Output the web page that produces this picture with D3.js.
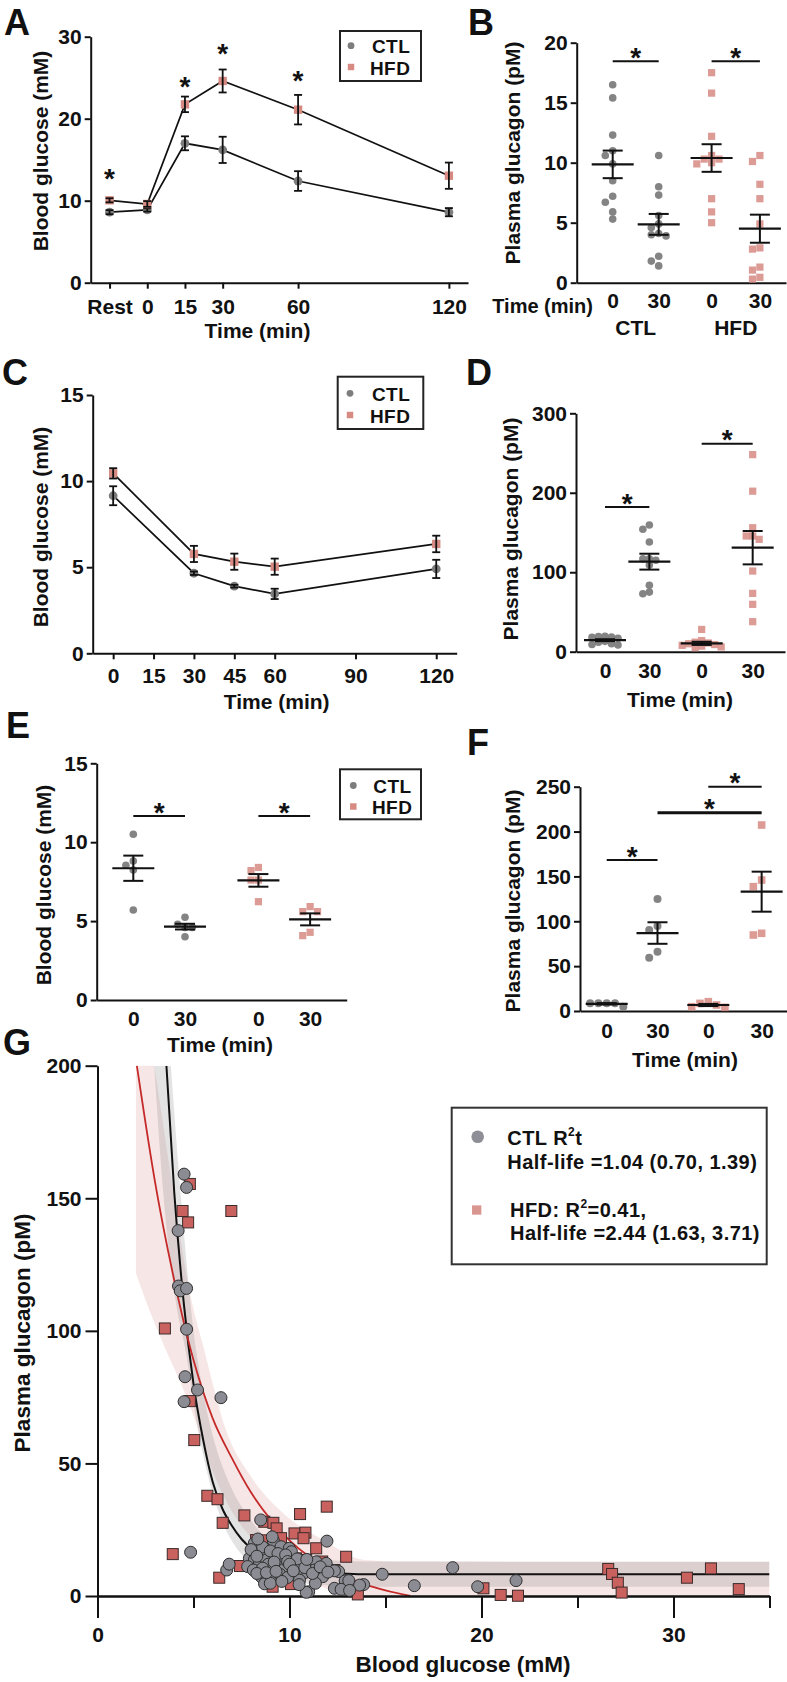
<!DOCTYPE html>
<html><head><meta charset="utf-8">
<script src="https://cdn.jsdelivr.net/npm/d3@7"></script>
<style>body{margin:0;background:#fff}svg{display:block}</style>
</head><body>
<svg id="chart" width="787" height="1682"></svg>
<script>
// ---------------- DATA ----------------
// Panel A
const aTimeLabels = ["Rest","0","15","30","60","120"];
const aTime = [-15, 0, 15, 30, 60, 120];
const aCtlMean = [8.6, 8.87, 17.0, 16.2, 12.4, 8.6];
const aCtlSem  = [0.25, 0.2, 0.85, 1.6, 1.2, 0.5];
const aHfdMean = [10.05, 9.6, 21.75, 24.6, 21.1, 13.05];
const aHfdSem  = [0.25, 0.35, 0.95, 1.4, 1.8, 1.6];
const aStarTime = [-15, 15, 30, 60];
const aStarLevel = [13.4, 24.6, 28.7, 25.4];
const aYTicks = [0, 10, 20, 30];

// Panel B
const bCtl0  = [16.5, 15.4, 12.3, 11.0, 10.6, 9.9, 8.5, 7.2, 6.7, 5.9, 5.3];
const bCtl30 = [10.6, 8.0, 7.3, 5.6, 4.9, 4.6, 4.0, 3.9, 4.1, 2.2, 1.8, 1.4];
const bHfd0  = [17.5, 15.8, 12.2, 10.3, 10.3, 10.6, 10.0, 9.9, 7.0, 5.9, 5.0];
const bHfd30 = [10.1, 10.6, 8.2, 7.0, 4.9, 2.8, 2.9, 1.05, 1.3, 0.3, 0.45];
const bMean = [9.86, 4.86, 10.39, 4.5];
const bSem  = [1.15, 0.87, 1.15, 1.17];
const bLabels = ["0","30","0","30"];
const bSigFrom = [0, 2], bSigTo = [1, 3], bSigLevel = [18.45, 18.45];
const bYTicks = [0, 5, 10, 15, 20];

// Panel C
const cTime = [0, 30, 45, 60, 120];
const cCtlMean = [9.15, 4.65, 3.9, 3.45, 4.9];
const cCtlSem  = [0.55, 0.1, 0.08, 0.3, 0.53];
const cHfdMean = [10.45, 5.77, 5.32, 5.03, 6.35];
const cHfdSem  = [0.3, 0.47, 0.47, 0.47, 0.48];
const cXTicks = [0, 15, 30, 45, 60, 90, 120];
const cYTicks = [0, 5, 10, 15];

// Panel D
const dCtl0  = [19, 18.5, 19.5, 18, 17, 8.4, 9, 12, 13, 10];
const dCtl30 = [73, 83.5, 75, 154, 159.5, 138, 117, 115, 117, 109];
const dHfd0  = [28, 11, 8, 14, 6, 10, 9, 5, 12, 7];
const dHfd30 = [248, 202, 145.6, 156, 145.6, 141.4, 101.5, 73.4, 59.6, 37.8];
const dMean = [14.5, 113.3, 10.5, 130.9];
const dSem  = [1.2, 10, 2.0, 21];
const dLabels = ["0","30","0","30"];
const dSigFrom = [0, 2], dSigTo = [1, 3], dSigLevel = [182, 261.7];
const dYTicks = [0, 100, 200, 300];

// Panel E
const eCtl0  = [10.5, 8.54, 8.81, 8.24, 5.7];
const eCtl30 = [4.8, 4.6, 5.24, 4.01, 4.6];
const eHfd0  = [8.4, 8.2, 7.6, 7.6, 6.23];
const eHfd30 = [5.92, 5.6, 5.6, 4.08, 4.29];
const eMean = [8.35, 4.65, 7.58, 5.11];
const eSem  = [0.8, 0.18, 0.4, 0.38];
const eLabels = ["0","30","0","30"];
const eSigFrom = [0, 2], eSigTo = [1, 3], eSigLevel = [11.66, 11.66];
const eYTicks = [0, 5, 10, 15];

// Panel F
const fCtl0  = [8.5, 8.5, 8.5, 8.5, 4.8];
const fCtl30 = [124.8, 90.3, 94.7, 59.4, 66.1];
const fHfd0  = [4.8, 10.4, 6.7, 8.5, 4.1];
const fHfd30 = [207.3, 138.6, 146, 84.7, 86.6];
const fMean = [8.0, 86.9, 6.7, 133];
const fSem  = [0.8, 12, 1.2, 22.3];
const fLabels = ["0","30","0","30"];
const fSigFrom = [0, 1, 2], fSigTo = [1, 3, 3], fSigLevel = [168.3, 221, 250];
const fYTicks = [0, 50, 100, 150, 200, 250];

// Panel G (blood glucose mM, plasma glucagon pM)
const gCtlGlucose = [4.51,4.64,4.2,4.22,4.31,4.64,4.64,4.56,5.21,6.43,4.51,4.85,8.5,6.73,6.86,11.95,12.56,12.9,13.86,14.83,16.5,18.5,19.8,21.8,11.0,
  9.16,8.17,8.69,9.56,9.99,10.1,7.91,8.17,7.82,8.43,8.81,9.3,9.56,8.12,8.95,9.39,9.73,10.17,10.6,11.04,11.39,11.91,12.34,11.73,11.3,10.78,10.34,8.52,8.87,9.21,10.52,11.35,10.87,12.34,12.69,13.09,13.65,13.13,
  8.0,8.6,9.0,9.4,9.8,8.3,8.9,9.2,9.9,10.4,10.0,8.6,8.3,9.5,9.9,10.2,8.7,9.0,10.8,11.2,11.6,12.0,10.5,9.6,8.8,9.3,10.9,9.1,8.35];
const gCtlGlucagon = [159.1,154.1,137.8,116.9,115.1,116,100.6,82.7,77.7,74.8,73.3,16.5,28.7,9.8,12,20.7,9.2,5.7,4.3,8.2,3.9,10.7,3.5,5.8,1.6,
  20.9,19.9,16.1,18.6,18,16.7,14.2,13.6,11.1,12.9,13.6,14.8,14.6,9.8,10.8,11.1,10.1,10.8,11.7,12.6,12.9,12.3,9.5,7.3,9.8,8.8,8.5,7.3,6.3,7.0,6.0,4.8,1.4,2.9,2.5,5.8,4.1,2.1,
  17.5,18.5,17,16,15.5,15,12,12.8,13,14,12,10.5,8.5,8.2,7,9.5,4.6,4.8,10.7,8.5,11,9,4.3,5.5,8.8,9.3,13.8,22.3,21.5];
const gHfdGlucose = [4.81,4.43,4.72,6.97,3.51,4.81,5.04,5.72,6.25,6.52,3.92,7.65,8.69,9.16,9.33,10.55,11.94,10.26,10.83,10.73,8.26,9.56,11.39,12.95,7.42,6.34,9.12,10.08,13.56,10.34,10.87,12.34,20.1,21.0,21.9,26.6,26.8,27.1,27.3,30.7,31.95,33.4,8.8,9.7,11.7];
const gHfdGlucagon = [155.4,145.2,140.9,145.2,100.9,73.5,58.8,37.8,36.5,27.6,15.8,30.4,28,27.6,25.5,30.9,33.7,23.6,23.9,21.8,21.1,21.8,18,14.8,11.3,6.9,3.5,4.5,0.6,14.2,13.6,9.8,2.9,0.4,0.1,10.2,8.3,5.0,1.3,6.9,10.4,2.6,21,12.5,13.0];
// fitted curves and confidence bands
const gCtlFitX = [3.59,4,4.5,5,5.5,6,6.5,7,7.5,8,9,10,11,12,13,14,35];
const gCtlFitY = [200,152,110,80,59,43,33,26.5,21.5,18,13.5,11,9.6,8.8,8.4,8.2,8.2];
const gHfdFitX = [2.05,3,4,5,6,7,8,9,10,11,12,13,14,15,16.3];
const gHfdFitY = [200,156,119,89,67,52,39,29,21,15,10.5,7,4.2,2.1,0];
const gCtlBandHiX = [3.82,4.35,5.0,5.56,6.95,7.73,8.95,10.3,12,14,35];
const gCtlBandHiY = [200,150,100,75,41.2,31.2,21.1,16.1,13.6,13,12.9];
const gCtlBandLoX = [2.95,3.45,4.1,4.6,5.2,5.8,6.5,7.2,8,9,10,11,12.5,14,35];
const gCtlBandLoY = [200,150,110,92,64,44,28,18.5,12.5,8,5.8,4.5,3.8,3.5,3.5];
const gHfdBandHiX = [2.0,2.95,4.0,4.78,5.56,6.69,8.0,9.7,11.8,13.9,16,35];
const gHfdBandHiY = [240,200,150,115.4,92.8,62.6,45,31,21,13.6,13,12.9];
const gHfdBandLoX = [2.0,2.5,3.56,4.34,5,6,7,8,9,10,11,12,13,14,16,35];
const gHfdBandLoY = [121.7,111.6,92.8,80.2,68,47,32,22,15,9.5,5.5,2.5,0,-2,-3,-3];
const gXTicksMajor = [0, 10, 20, 30];
const gXTicksMinor = [5, 15, 25, 35];
const gYTicks = [0, 50, 100, 150, 200];
const gLegendCtl = ["Half-life =1.04 (0.70, 1.39)"];
const gLegendHfd = ["Half-life =2.44 (1.63, 3.71)"];

// ---------------- HELPERS ----------------
const FONT = '"Liberation Sans", Arial, Helvetica, sans-serif';
const INK = "#111";
const CTL_FILL = "#7d7d7d", HFD_FILL = "#d68a82";
const svg = d3.select("#chart");

function txt(x, y, s, fs, anchor, rot) {
  const t = svg.append("text").attr("font-family", FONT).attr("font-weight", "bold")
    .attr("font-size", fs).attr("fill", INK).attr("text-anchor", anchor || "start");
  if (rot) t.attr("transform", `translate(${x},${y}) rotate(${rot})`);
  else t.attr("x", x).attr("y", y);
  if (s !== null) t.text(s);
  return t;
}
function styleAxis(g, fs) {
  g.attr("font-family", FONT).attr("font-size", fs).attr("font-weight", "bold");
  g.select(".domain").attr("stroke", INK).attr("stroke-width", 2);
  g.selectAll(".tick line").attr("stroke", INK).attr("stroke-width", 2);
  g.selectAll(".tick text").attr("fill", INK);
}
function yAxis(x, scale, ticks, len, pad, fs) {
  const g = svg.append("g").attr("transform", `translate(${x},0)`)
    .call(d3.axisLeft(scale).tickValues(ticks).tickSize(len).tickSizeOuter(0).tickPadding(pad));
  styleAxis(g, fs); return g;
}
function xAxis(y, scale, ticks, labels, len, pad, fs) {
  const g = svg.append("g").attr("transform", `translate(0,${y})`)
    .call(d3.axisBottom(scale).tickValues(ticks)
      .tickFormat((d, i) => labels ? labels[i] : d).tickSize(len).tickSizeOuter(0).tickPadding(pad));
  styleAxis(g, fs); return g;
}
function seg(g, x1, y1, x2, y2, w) {
  g.append("line").attr("x1", x1).attr("y1", y1).attr("x2", x2).attr("y2", y2)
    .attr("stroke", INK).attr("stroke-width", w || 2);
}
function mark(g, shape, x, y, r, fill, stroke, op) {
  if (shape === "circle") {
    g.append("circle").attr("cx", x).attr("cy", y).attr("r", r).attr("fill", fill)
      .attr("fill-opacity", op || 1).attr("stroke", stroke || "none").attr("stroke-width", 1);
  } else {
    const s = r * 1.9;
    g.append("rect").attr("x", x - s / 2).attr("y", y - s / 2).attr("width", s).attr("height", s)
      .attr("fill", fill).attr("fill-opacity", op || 1).attr("stroke", stroke || "none").attr("stroke-width", 1);
  }
}
function star(x, cy) { txt(x, cy + 15.5, "*", 28, "middle"); }
function swarm(values, cx, yScale, r, step, ov) {
  const placed = [];
  const minD = 2 * r * (ov || 0.92);
  values.map(v => v).sort((a, b) => b - a).forEach(v => {
    const y = yScale(v);
    let x = cx;
    for (let k = 0; k < 40; k++) {
      const off = k === 0 ? 0 : (k % 2 ? -1 : 1) * Math.ceil(k / 2) * step;
      x = cx + off;
      if (placed.every(p => (p.x - x) ** 2 + (p.y - y) ** 2 >= minD * minD)) break;
    }
    placed.push({ x, y });
  });
  return placed;
}
function legendBox(x, y, w, h, items) {
  const g = svg.append("g");
  g.append("rect").attr("x", x).attr("y", y).attr("width", w).attr("height", h)
    .attr("fill", "#fff").attr("stroke", "#222").attr("stroke-width", 2);
  items.forEach(it => {
    mark(g, it.shape, it.mx, it.my, 3.4, it.fill, null, 1);
    txt(it.tx, it.ty, it.label, 19, "start").attr("letter-spacing", 0.4);
  });
}

// dot plot panel (B, D, E, F)
function dotPanel(p) {
  const g = svg.append("g");
  const shapes = ["circle", "circle", "square", "square"];
  const fills = [CTL_FILL, CTL_FILL, HFD_FILL, HFD_FILL];
  p.groups.forEach((vals, gi) => {
    const cx = p.x(p.slots[gi]);
    swarm(vals, cx, p.y, p.r, p.step, p.ov).forEach(pt =>
      mark(g, shapes[gi], pt.x, pt.y, p.r, fills[gi], null, gi < 2 ? 0.95 : 0.85));
  });
  p.means.forEach((m, gi) => {
    const cx = p.x(p.slots[gi]);
    const s = p.sems[gi];
    seg(g, cx - 21, p.y(m), cx + 21, p.y(m), 2.2);
    seg(g, cx, p.y(m - s), cx, p.y(m + s), 2);
    seg(g, cx - 10, p.y(m - s), cx + 10, p.y(m - s), 2);
    seg(g, cx - 10, p.y(m + s), cx + 10, p.y(m + s), 2);
  });
  p.sigFrom.forEach((a, i) => {
    const x1 = p.x(p.slots[a]), x2 = p.x(p.slots[p.sigTo[i]]);
    const yy = p.y(p.sigLevel[i]);
    seg(g, x1, yy, x2, yy, p.sigW ? p.sigW[i] : 2);
    star((x1 + x2) / 2, yy - 10);
  });
}
function slotScale(x0, step, axisStart, axisEnd) {
  return d3.scaleLinear().domain([(axisStart - x0) / step, (axisEnd - x0) / step]).range([axisStart, axisEnd]);
}

// ---------------- PANEL A ----------------
{
  const x = d3.scaleLinear().domain([-22.5, 127.6]).range([90.7, 468]);
  const y = d3.scaleLinear().domain([0, 30]).range([282.7, 36.7]);
  yAxis(90.7, y, aYTicks, 6, 3, 21);
  xAxis(282.7, x, aTime, aTimeLabels, 6, 10, 21);
  const g = svg.append("g");
  const line = d3.line().x(d => x(d[0])).y(d => y(d[1]));
  [aCtlMean, aHfdMean].forEach(m =>
    g.append("path").attr("d", line(d3.zip(aTime, m))).attr("fill", "none").attr("stroke", INK).attr("stroke-width", 1.7));
  [[aCtlMean, aCtlSem, "circle", CTL_FILL], [aHfdMean, aHfdSem, "square", HFD_FILL]].forEach(([m, s, sh, f]) => {
    aTime.forEach((t, i) => mark(g, sh, x(t), y(m[i]), 4.4, f, null, 1));
    aTime.forEach((t, i) => {
      seg(g, x(t), y(m[i] - s[i]), x(t), y(m[i] + s[i]), 1.8);
      seg(g, x(t) - 4, y(m[i] - s[i]), x(t) + 4, y(m[i] - s[i]), 1.8);
      seg(g, x(t) - 4, y(m[i] + s[i]), x(t) + 4, y(m[i] + s[i]), 1.8);
    });
  });
  aStarTime.forEach((t, i) => star(x(t), y(aStarLevel[i])));
  legendBox(340, 31, 81, 50, [
    { shape: "circle", mx: 351, my: 45.7, fill: CTL_FILL, tx: 372, ty: 52.5, label: "CTL" },
    { shape: "square", mx: 351, my: 67, fill: HFD_FILL, tx: 370, ty: 74.5, label: "HFD" }]);
  txt(257.5, 337.5, "Time (min)", 21, "middle");
  txt(48, 151, "Blood glucose (mM)", 21, "middle", -90);
  txt(4, 35, "A", 36, "start");
}

// ---------------- PANEL B ----------------
{
  const y = d3.scaleLinear().domain([0, 20]).range([282.7, 42.7]);
  const x = slotScale(612.7, 46, 576.7, 786);
  const slots = [0, 1, 2.15, 3.2];
  yAxis(576.7, y, bYTicks, 6, 3, 21);
  xAxis(282.7, x, slots, bLabels, 0, 10.4, 21);
  dotPanel({ x, y, slots, r: 3.8, step: 7.4, groups: [bCtl0, bCtl30, bHfd0, bHfd30],
    means: bMean, sems: bSem, sigFrom: bSigFrom, sigTo: bSigTo, sigLevel: bSigLevel });
  txt(593, 312.5, "Time (min)", 20, "end");
  txt((x(slots[0]) + x(slots[1])) / 2, 335, "CTL", 21, "middle");
  txt((x(slots[2]) + x(slots[3])) / 2, 335, "HFD", 21, "middle");
  txt(520, 153, "Plasma glucagon (pM)", 21, "middle", -90);
  txt(468, 35, "B", 36, "start");
}

// ---------------- PANEL C ----------------
{
  const x = d3.scaleLinear().domain([-7.6, 127.6]).range([92.7, 456.7]);
  const y = d3.scaleLinear().domain([0, 15]).range([653.3, 395]);
  yAxis(92.7, y, cYTicks, 6, 3, 21);
  xAxis(653.3, x, cXTicks, null, 6, 8.5, 21);
  const g = svg.append("g");
  const line = d3.line().x(d => x(d[0])).y(d => y(d[1]));
  [cCtlMean, cHfdMean].forEach(m =>
    g.append("path").attr("d", line(d3.zip(cTime, m))).attr("fill", "none").attr("stroke", INK).attr("stroke-width", 1.7));
  [[cCtlMean, cCtlSem, "circle", CTL_FILL], [cHfdMean, cHfdSem, "square", HFD_FILL]].forEach(([m, s, sh, f]) => {
    cTime.forEach((t, i) => mark(g, sh, x(t), y(m[i]), 4.4, f, null, 1));
    cTime.forEach((t, i) => {
      seg(g, x(t), y(m[i] - s[i]), x(t), y(m[i] + s[i]), 1.8);
      seg(g, x(t) - 4, y(m[i] - s[i]), x(t) + 4, y(m[i] - s[i]), 1.8);
      seg(g, x(t) - 4, y(m[i] + s[i]), x(t) + 4, y(m[i] + s[i]), 1.8);
    });
  });
  legendBox(337.7, 376.7, 85.6, 52.3, [
    { shape: "circle", mx: 350, my: 393.3, fill: CTL_FILL, tx: 372, ty: 400.5, label: "CTL" },
    { shape: "square", mx: 350, my: 415, fill: HFD_FILL, tx: 370, ty: 422.5, label: "HFD" }]);
  txt(276.7, 709, "Time (min)", 21, "middle");
  txt(48, 527, "Blood glucose (mM)", 21, "middle", -90);
  txt(2, 385, "C", 36, "start");
}

// ---------------- PANEL D ----------------
{
  const y = d3.scaleLinear().domain([0, 300]).range([651.7, 413.3]);
  const x = slotScale(605, 44.35, 576, 785);
  const slots = [0, 1, 2.18, 3.33];
  yAxis(576, y, dYTicks, 6, 3, 21);
  xAxis(651.7, x, slots, dLabels, 0, 11.4, 21);
  dotPanel({ x, y, slots, r: 3.8, step: 6.5, ov: 0.65, groups: [dCtl0, dCtl30, dHfd0, dHfd30],
    means: dMean, sems: dSem, sigFrom: dSigFrom, sigTo: dSigTo, sigLevel: dSigLevel });
  txt(680, 707, "Time (min)", 21, "middle");
  txt(518, 529, "Plasma glucagon (pM)", 21, "middle", -90);
  txt(466, 385, "D", 36, "start");
}

// ---------------- PANEL E ----------------
{
  const y = d3.scaleLinear().domain([0, 15]).range([1000, 763.3]);
  const x = slotScale(133.3, 51.7, 96.7, 346.7);
  const slots = [0, 1, 2.42, 3.42];
  yAxis(96.7, y, eYTicks, 6, 3, 21);
  xAxis(1000, x, slots, eLabels, 0, 11.1, 21);
  dotPanel({ x, y, slots, r: 3.8, step: 7.4, groups: [eCtl0, eCtl30, eHfd0, eHfd30],
    means: eMean, sems: eSem, sigFrom: eSigFrom, sigTo: eSigTo, sigLevel: eSigLevel });
  legendBox(340, 769.3, 81, 50, [
    { shape: "circle", mx: 353.3, my: 785.5, fill: CTL_FILL, tx: 373.3, ty: 792.5, label: "CTL" },
    { shape: "square", mx: 353.3, my: 806.5, fill: HFD_FILL, tx: 372, ty: 814, label: "HFD" }]);
  txt(220, 1052, "Time (min)", 21, "middle");
  txt(51, 885, "Blood glucose (mM)", 21, "middle", -90);
  txt(6, 738, "E", 36, "start");
}

// ---------------- PANEL F ----------------
{
  const y = d3.scaleLinear().domain([0, 250]).range([1011, 786.7]);
  const x = slotScale(606.7, 50.8, 580, 786.7);
  const slots = [0, 1, 2, 3.05];
  yAxis(580, y, fYTicks, 6, 3, 21);
  xAxis(1011, x, slots, fLabels, 0, 12.1, 21);
  dotPanel({ x, y, slots, r: 4, step: 8.3, groups: [fCtl0, fCtl30, fHfd0, fHfd30],
    means: fMean, sems: fSem, sigFrom: fSigFrom, sigTo: fSigTo, sigLevel: fSigLevel, sigW: [2, 3, 2] });
  txt(685, 1067, "Time (min)", 21, "middle");
  txt(520, 901, "Plasma glucagon (pM)", 21, "middle", -90);
  txt(467, 755, "F", 36, "start");
}

// ---------------- PANEL G ----------------
{
  const x = d3.scaleLinear().domain([0, 35]).range([97.5, 769.5]);
  const y = d3.scaleLinear().domain([0, 200]).range([1596, 1065.7]);
  svg.append("defs").append("clipPath").attr("id", "gclip").append("rect")
    .attr("x", x(0)).attr("y", y(200)).attr("width", x(35) - x(0)).attr("height", y(0) - y(200));
  const plot = svg.append("g").attr("clip-path", "url(#gclip)");
  const line = d3.line().x(d => x(d[0])).y(d => y(d[1])).curve(d3.curveMonotoneX);
  function band(hx, hy, lx, ly, fill) {
    const hi = line(d3.zip(hx, hy));
    const lo = line(d3.zip(lx, ly).reverse());
    plot.append("path").attr("d", hi + "L" + lo.slice(1) + "Z").attr("fill", fill).attr("stroke", "none");
  }
  band(gHfdBandHiX, gHfdBandHiY, gHfdBandLoX, gHfdBandLoY, "rgba(214,128,128,0.2)");
  band(gCtlBandHiX, gCtlBandHiY, gCtlBandLoX, gCtlBandLoY, "rgba(115,115,115,0.2)");
  plot.append("path").attr("d", line(d3.zip(gCtlFitX, gCtlFitY))).attr("fill", "none").attr("stroke", "#111").attr("stroke-width", 2);
  plot.append("path").attr("d", line(d3.zip(gHfdFitX, gHfdFitY))).attr("fill", "none").attr("stroke", "#c42a2a").attr("stroke-width", 1.8);

  yAxis(97.5, y, gYTicks, 12, 4, 21);
  xAxis(1596, x, gXTicksMinor, gXTicksMinor.map(() => ""), 12, 0, 21);
  xAxis(1596, x, gXTicksMajor, null, 22, 9, 21);

  const pts = svg.append("g");
  gHfdGlucose.forEach((gl, i) => mark(pts, "square", x(gl), y(gHfdGlucagon[i]), 5.8, "#c9625f", "#3b2a2a", 1));
  gCtlGlucose.forEach((gl, i) => mark(pts, "circle", x(gl), y(gCtlGlucagon[i]), 6, "#8b8b93", "#2e2e2e", 1));

  // legend
  const lg = svg.append("g");
  lg.append("rect").attr("x", 451.7).attr("y", 1107.7).attr("width", 315).attr("height", 156.6)
    .attr("fill", "#fff").attr("stroke", "#333").attr("stroke-width", 2);
  mark(lg, "circle", 477.7, 1136.7, 6.3, "#8e8e96", null, 1);
  mark(lg, "square", 476.7, 1210, 4.9, "#d99690", null, 1);
  const t1 = txt(507.3, 1145, null, 20, "start").attr("letter-spacing", 0.45);
  t1.append("tspan").text("CTL R");
  t1.append("tspan").attr("font-size", 12).attr("dy", -9).text("2");
  t1.append("tspan").attr("dy", 9).text("t");
  txt(507.3, 1168.5, gLegendCtl[0], 20, "start").attr("letter-spacing", 0.45);
  const t2 = txt(510, 1216.5, null, 20, "start").attr("letter-spacing", 0.45);
  t2.append("tspan").text("HFD: R");
  t2.append("tspan").attr("font-size", 12).attr("dy", -9).text("2");
  t2.append("tspan").attr("dy", 9).text("=0.41,");
  txt(510, 1240, gLegendHfd[0], 20, "start").attr("letter-spacing", 0.45);

  txt(463, 1672, "Blood glucose (mM)", 22.5, "middle");
  txt(30, 1333, "Plasma glucagon (pM)", 22.5, "middle", -90);
  txt(3, 1055, "G", 36, "start");
}
</script>
</body></html>
